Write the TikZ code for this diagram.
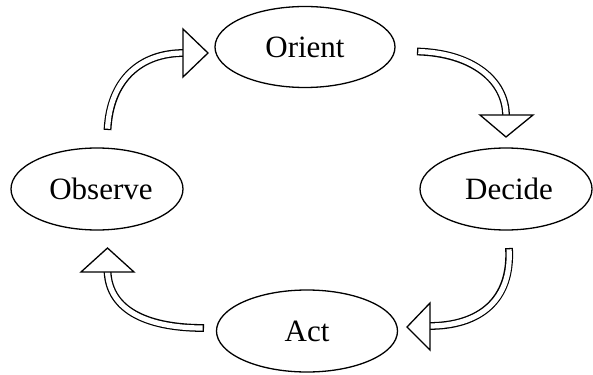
\documentclass[tikz,border=0pt]{standalone}
\usepackage{fontspec}
\setmainfont{Liberation Serif}
\usetikzlibrary{shapes.geometric}
\newcommand\arrshaft[1]{%
  \draw[line width=7.8pt] #1;
  \draw[white,line width=5.2pt,shorten <=1.3pt] #1;}
\begin{document}
\begin{tikzpicture}[x=1pt,y=-1pt,
  stage/.style={ellipse,draw,line width=1.3pt,inner sep=0pt,
    font=\fontsize{31}{35}\selectfont},
  head/.style={draw,line width=1.3pt,fill=white,line join=miter}]
\useasboundingbox (0,0) rectangle (593,374);
\node[stage,minimum width=180pt,minimum height=81pt] (orient) at (305,47) {Orient};
\node[stage,minimum width=172pt,minimum height=82pt] (decide) at (506,189) {\hspace{6pt}Decide};
\node[stage,minimum width=172pt,minimum height=82pt] (observe) at (97,189) {\hspace{8pt}Observe};
\node[stage,minimum width=181pt,minimum height=82pt] (act) at (307,331) {Act};
% coordinates of shaft ends
\coordinate (tl1) at (107.5,130); \coordinate (tl2) at (184,53);
\coordinate (tr1) at (417,51.5);  \coordinate (tr2) at (506,116);
\coordinate (br1) at (509,248);   \coordinate (br2) at (429,326);
\coordinate (bl1) at (204,328);   \coordinate (bl2) at (107.5,271);
% shafts
\arrshaft{(tl1) .. controls (110,80) and (140,53) .. (tl2)}
\arrshaft{(tr1) .. controls (472,53) and (506,80) .. (tr2)}
\arrshaft{(br1) .. controls (512,300) and (480,326) .. (br2)}
\arrshaft{(bl1) .. controls (150,328) and (109,312) .. (bl2)}
% heads
\path[head] (183,29) -- (208,53) -- (183,77) -- cycle;
\path[head] (480,115) -- (506,137) -- (533,115) -- cycle;
\path[head] (430,303) -- (407,327) -- (430,350) -- cycle;
\path[head] (81,272) -- (107.5,248) -- (134,272) -- cycle;
\end{tikzpicture}
\end{document}
